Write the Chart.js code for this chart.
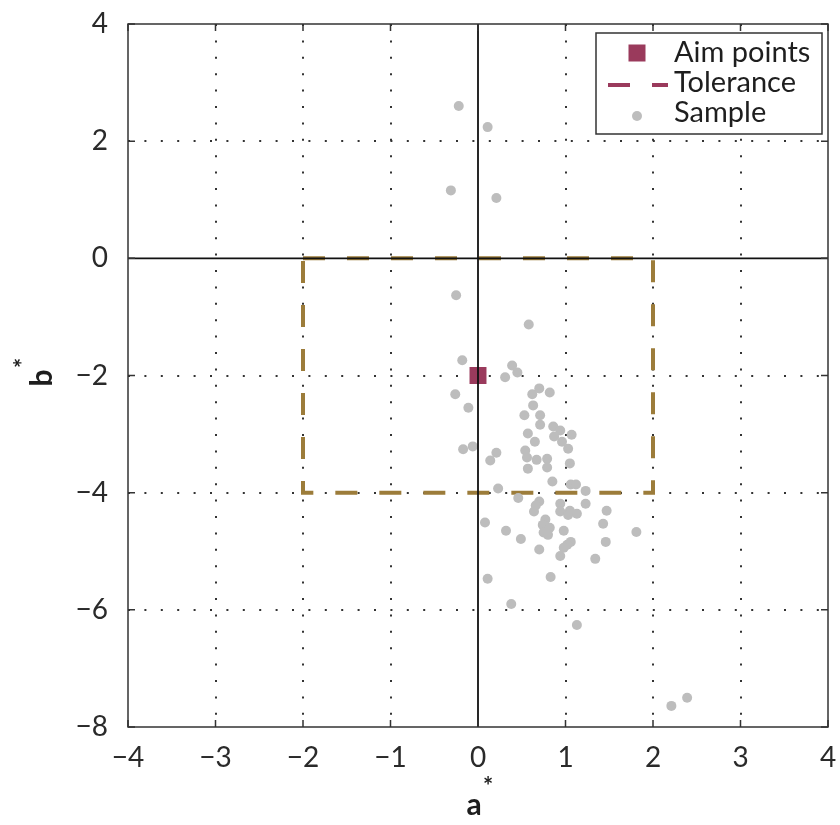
<!DOCTYPE html>
<html>
<head>
<meta charset="utf-8">
<script src="https://cdn.jsdelivr.net/npm/chart.js@4.4.0/dist/chart.umd.min.js"></script>
<style>
  html, body { margin: 0; padding: 0; background: #fff; }
</style>
</head>
<body>
<canvas id="chart" width="840" height="825"></canvas>
<script>
// data
const sampleA = [-0.22, 0.11, -0.31, 0.21, -0.25, 0.58, -0.18, 0.39, 0.45, 0.31,
  -0.26, -0.11, 0.70, 0.62, 0.82, 0.63, 0.53, 0.71, 0.71, 0.86,
  0.94, 0.87, 1.07, 0.57, 0.65, 0.96, 1.03, -0.17, -0.06, 0.21,
  0.14, 0.54, 0.56, 0.67, 0.79, 0.79, 0.57, 1.05, 0.85, 1.06,
  1.12, 1.23, 0.23, 0.46, 0.70, 0.66, 0.64, 0.94, 0.94, 1.05,
  1.03, 1.13, 1.23, 1.47, 0.08, 0.32, 0.77, 0.74, 0.82, 0.75,
  0.80, 0.98, 1.43, 1.81, 0.49, 1.06, 1.02, 0.98, 1.46, 0.70,
  0.94, 1.34, 0.11, 0.83, 0.38, 1.13, 2.21, 2.39];
const sampleB = [2.60, 2.24, 1.16, 1.03, -0.63, -1.13, -1.74, -1.83, -1.95, -2.03,
  -2.32, -2.55, -2.22, -2.32, -2.29, -2.51, -2.68, -2.68, -2.84, -2.87,
  -2.94, -3.04, -3.01, -2.99, -3.13, -3.13, -3.25, -3.26, -3.21, -3.32,
  -3.45, -3.28, -3.40, -3.44, -3.42, -3.57, -3.59, -3.50, -3.81, -3.86,
  -3.86, -3.97, -3.93, -4.09, -4.15, -4.22, -4.32, -4.19, -4.32, -4.31,
  -4.38, -4.36, -4.19, -4.31, -4.51, -4.65, -4.46, -4.55, -4.60, -4.68,
  -4.72, -4.65, -4.53, -4.67, -4.79, -4.84, -4.89, -4.94, -4.84, -4.97,
  -5.08, -5.13, -5.47, -5.44, -5.90, -6.26, -7.64, -7.50];
const aimA = [0];
const aimB = [-2];
const tolA = [-2, 2, 2, -2, -2];
const tolB = [0, 0, -4, -4, 0];
const xTicks = [-4, -3, -2, -1, 0, 1, 2, 3, 4];
const yTicks = [-8, -6, -4, -2, 0, 2, 4];
const legendLabels = ['Aim points', 'Tolerance', 'Sample'];

const maroon = '#9a3a5c';
const gold = '#9c7c3a';
const grey = '#bdbdbd';
const ink = '#2a2a2a';
const fontFam = 'Lato, "Noto Sans", sans-serif';

const toPts = (xs, ys) => xs.map((x, i) => ({ x: x, y: ys[i] }));
const fmt = v => (v < 0 ? '\u2212' + Math.abs(v) : String(v));

// grid dots except on the zero line and the frame
function gridColor(ctx, lo, hi) {
  const v = ctx.tick ? ctx.tick.value : null;
  if (v === 0 || v === lo || v === hi) return 'rgba(0,0,0,0)';
  return '#333';
}

// zero lines, frame and inward ticks
const framePlugin = {
  id: 'frame',
  afterDatasetsDraw(chart) {
    const { ctx, chartArea: a, scales } = chart;
    const xs = scales.x, ys = scales.y;
    ctx.save();
    ctx.strokeStyle = '#111';
    ctx.lineWidth = 1.8;
    const x0 = xs.getPixelForValue(0), y0 = ys.getPixelForValue(0);
    ctx.beginPath();
    ctx.moveTo(x0, a.top); ctx.lineTo(x0, a.bottom);
    ctx.moveTo(a.left, y0); ctx.lineTo(a.right, y0);
    ctx.stroke();

    ctx.strokeStyle = '#333';
    ctx.lineWidth = 1.5;
    ctx.strokeRect(a.left, a.top, a.right - a.left, a.bottom - a.top);
    const len = 7;
    ctx.beginPath();
    xTicks.forEach(t => {
      const p = xs.getPixelForValue(t);
      ctx.moveTo(p, a.bottom); ctx.lineTo(p, a.bottom - len);
      ctx.moveTo(p, a.top); ctx.lineTo(p, a.top + len);
    });
    yTicks.forEach(t => {
      const p = ys.getPixelForValue(t);
      ctx.moveTo(a.left, p); ctx.lineTo(a.left + len, p);
      ctx.moveTo(a.right, p); ctx.lineTo(a.right - len, p);
    });
    ctx.stroke();
    ctx.restore();
  },
  afterDraw(chart) {
    const { ctx, chartArea: a } = chart;
    ctx.save();
    // legend box, top right inside the plot
    const bx = a.right - 232, by = a.top + 9, bw = 226, bh = 101;
    ctx.fillStyle = '#fff';
    ctx.fillRect(bx, by, bw, bh);
    ctx.strokeStyle = '#333';
    ctx.lineWidth = 1.5;
    ctx.strokeRect(bx, by, bw, bh);

    const rows = [by + 20, by + 50, by + 80];
    const ix = bx + 41;
    ctx.fillStyle = maroon;
    ctx.fillRect(ix - 8.5, rows[0] - 8.5, 17, 17);
    ctx.strokeStyle = maroon;
    ctx.lineWidth = 4;
    ctx.beginPath();
    ctx.moveTo(bx + 12, rows[1] + 2); ctx.lineTo(bx + 34, rows[1] + 2);
    ctx.moveTo(bx + 56, rows[1] + 2); ctx.lineTo(bx + 72, rows[1] + 2);
    ctx.stroke();
    ctx.fillStyle = grey;
    ctx.beginPath();
    ctx.arc(ix, rows[2] + 3, 5, 0, Math.PI * 2);
    ctx.fill();

    ctx.fillStyle = '#1e1e1e';
    ctx.font = '29px ' + fontFam;
    ctx.textBaseline = 'middle';
    ctx.textAlign = 'left';
    legendLabels.forEach((t, i) => ctx.fillText(t, bx + 78, rows[i]));

    // axis titles with superscript star
    ctx.font = 'bold 30px ' + fontFam;
    ctx.textBaseline = 'alphabetic';
    ctx.textAlign = 'center';
    ctx.fillText('a', 474, a.bottom + 88);
    ctx.font = 'bold 24px ' + fontFam;
    ctx.fillText('*', 488, a.bottom + 68);

    ctx.translate(52, 378);
    ctx.rotate(-Math.PI / 2);
    ctx.font = 'bold 30px ' + fontFam;
    ctx.fillText('b', 0, 0);
    ctx.font = 'bold 24px ' + fontFam;
    ctx.fillText('*', 15, -20);
    ctx.restore();
  }
};

const chart = new Chart(document.getElementById('chart').getContext('2d'), {
  type: 'scatter',
  data: {
    datasets: [
      {
        label: legendLabels[0],
        data: toPts(aimA, aimB),
        pointStyle: 'rect',
        pointRadius: 12,
        backgroundColor: maroon,
        borderColor: maroon,
        borderWidth: 0
      },
      {
        label: legendLabels[2],
        data: toPts(sampleA, sampleB),
        pointStyle: 'circle',
        pointRadius: 5,
        backgroundColor: grey,
        borderWidth: 0
      },
      {
        label: legendLabels[1],
        type: 'line',
        data: toPts(tolA, tolB),
        borderColor: gold,
        borderWidth: 4,
        borderDash: [22, 22],
        pointRadius: 0,
        fill: false,
        tension: 0
      }
    ]
  },
  options: {
    responsive: false,
    animation: false,
    layout: { padding: { top: 24, right: 12, left: 0, bottom: 0 } },
    plugins: { legend: { display: false }, tooltip: { enabled: false } },
    scales: {
      x: {
        type: 'linear',
        min: -4, max: 4,
        afterBuildTicks: s => { s.ticks = xTicks.map(v => ({ value: v })); },
        afterFit: s => { s.height = 98; s.paddingLeft = 0; s.paddingRight = 0; },
        ticks: {
          padding: 14,
          color: ink,
          font: { family: fontFam, size: 28 },
          maxRotation: 0,
          callback: fmt
        },
        grid: { drawTicks: false, lineWidth: 2, color: c => gridColor(c, -4, 4) },
        border: { display: false, dash: [2, 14.4] }
      },
      y: {
        type: 'linear',
        min: -8, max: 4,
        afterBuildTicks: s => { s.ticks = yTicks.map(v => ({ value: v })); },
        afterFit: s => { s.width = 128; s.paddingTop = 0; s.paddingBottom = 0; },
        ticks: {
          padding: 20,
          color: ink,
          font: { family: fontFam, size: 28 },
          callback: fmt
        },
        grid: { drawTicks: false, lineWidth: 2, color: c => gridColor(c, -8, 4) },
        border: { display: false, dash: [2, 14.4] }
      }
    }
  },
  plugins: [framePlugin]
});
</script>
</body>
</html>
